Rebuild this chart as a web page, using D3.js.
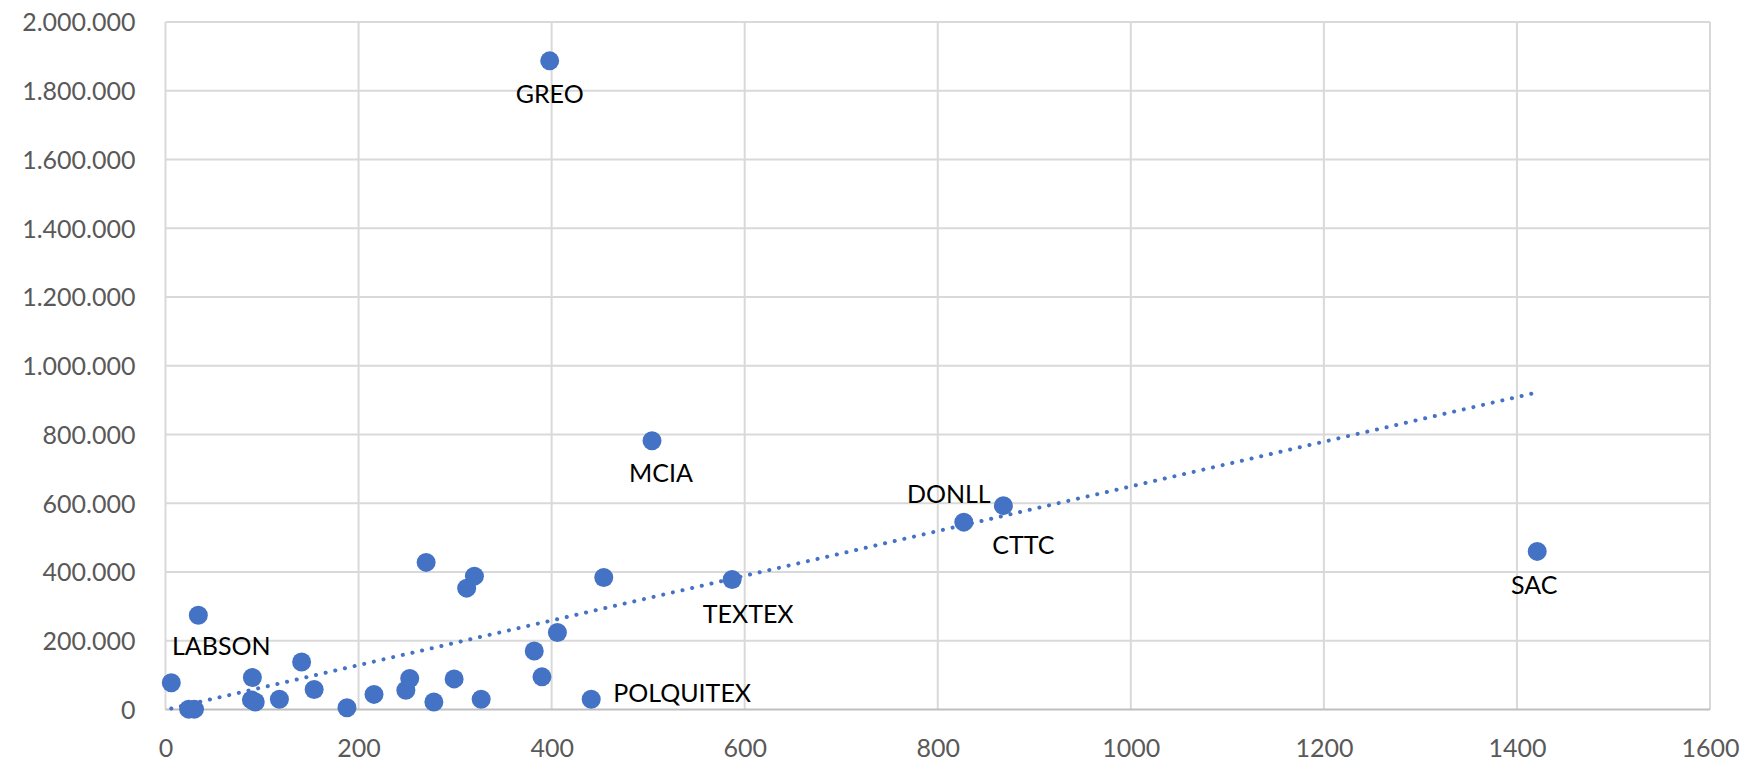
<!DOCTYPE html>
<html>
<head>
<meta charset="utf-8">
<script src="https://cdn.jsdelivr.net/npm/d3@7"></script>
<style>
  html, body { margin: 0; padding: 0; background: #fff; }
  svg { display: block; }
  .tick-label { font-family: Lato, "Open Sans", sans-serif; font-size: 25px; fill: #595959; }
  .point-label { font-family: Lato, "Open Sans", sans-serif; font-size: 25px; fill: #000; }
</style>
</head>
<body>
<svg id="chart" width="1759" height="764"></svg>
<script>
var xValues = [6, 24, 30, 34, 90, 89, 93, 118, 141, 154, 188, 216, 249, 253, 270, 278, 299, 312, 320, 327, 382, 390, 398, 406, 441, 454, 504, 587, 827, 868, 1421];
var yValues = [78000, 1000, 1000, 274000, 93000, 28000, 22000, 30000, 138000, 58000, 5000, 44000, 56000, 90000, 428000, 22000, 89000, 353000, 388000, 30000, 170000, 95000, 1887000, 224000, 30000, 384000, 782000, 378000, 545000, 593000, 460000];
var pointNames = ["", "", "", "LABSON", "", "", "", "", "", "", "", "", "", "", "", "", "", "", "", "", "", "", "GREO", "", "POLQUITEX", "", "MCIA", "TEXTEX", "DONLL", "CTTC", "SAC"];
var xTicks = [0, 200, 400, 600, 800, 1000, 1200, 1400, 1600];
var yTicks = [0, 200000, 400000, 600000, 800000, 1000000, 1200000, 1400000, 1600000, 1800000, 2000000];
// linear trendline as drawn in the picture
var trendIntercept = -1000,
    trendSlope = 650;

// label placement relative to its point (px)
var labelPlace = {
    LABSON: { dx: 23, dy: 40, anchor: "middle" },
    GREO: { dx: 0, dy: 42, anchor: "middle" },
    POLQUITEX: { dx: 22, dy: 3, anchor: "start" },
    MCIA: { dx: 9, dy: 41, anchor: "middle" },
    TEXTEX: { dx: 16, dy: 43, anchor: "middle" },
    DONLL: { dx: -15, dy: -19, anchor: "middle" },
    CTTC: { dx: 20, dy: 48, anchor: "middle" },
    SAC: { dx: -3, dy: 43, anchor: "middle" }
};

var margin = { top: 22, right: 49, bottom: 54.5, left: 165.5 },
    width = 1759 - margin.left - margin.right,
    height = 764 - margin.top - margin.bottom;

var data = xValues.map(function(d, i) {
    return { x: d, y: yValues[i], name: pointNames[i] };
});

var svg = d3.select("#chart");
var g = svg.append("g")
    .attr("transform", "translate(" + margin.left + "," + margin.top + ")");

var x = d3.scaleLinear().domain([0, 1600]).range([0, width]);
var y = d3.scaleLinear().domain([0, 2000000]).range([height, 0]);

var fmt = function(v) { return d3.format(",")(v).replace(/,/g, "."); };

// grid
g.append("g").selectAll("line.hgrid")
    .data(yTicks.slice(1))
    .enter().append("line")
    .attr("x1", 0).attr("x2", width)
    .attr("y1", d => y(d)).attr("y2", d => y(d))
    .attr("stroke", "#d9d9d9").attr("stroke-width", 2);

g.append("g").selectAll("line.vgrid")
    .data(xTicks)
    .enter().append("line")
    .attr("x1", d => x(d)).attr("x2", d => x(d))
    .attr("y1", 0).attr("y2", height)
    .attr("stroke", "#d9d9d9").attr("stroke-width", 2);

// x axis line
g.append("line")
    .attr("x1", 0).attr("x2", width)
    .attr("y1", height).attr("y2", height)
    .attr("stroke", "#bfbfbf").attr("stroke-width", 2);

// axes labels via d3 axes (ticks hidden)
var xAxis = d3.axisBottom(x).tickValues(xTicks).tickSize(0).tickPadding(30).tickFormat(d3.format("d"));
var yAxis = d3.axisLeft(y).tickValues(yTicks).tickSize(0).tickPadding(30).tickFormat(fmt);

var xa = g.append("g").attr("transform", "translate(0," + height + ")").call(xAxis);
var ya = g.append("g").call(yAxis);
[xa, ya].forEach(function(a) {
    a.select(".domain").remove();
    a.selectAll("text").attr("class", "tick-label").attr("font-size", null).attr("font-family", null);
});
xa.selectAll("text").attr("dy", "0.71em").attr("y", 30);
ya.selectAll("text").attr("dy", "0.35em");

// trendline
var xExt = d3.extent(xValues);
g.append("line")
    .attr("x1", x(xExt[0])).attr("y1", y(trendIntercept + trendSlope * xExt[0]))
    .attr("x2", x(xExt[1])).attr("y2", y(trendIntercept + trendSlope * xExt[1]))
    .attr("stroke", "#4472c4")
    .attr("stroke-width", 4)
    .attr("stroke-linecap", "round")
    .attr("stroke-dasharray", "0.1 9.8");

// points
g.append("g").selectAll("circle")
    .data(data)
    .enter().append("circle")
    .attr("cx", d => x(d.x))
    .attr("cy", d => y(d.y))
    .attr("r", 9.5)
    .attr("fill", "#4472c4");

// labels
g.append("g").selectAll("text")
    .data(data.filter(d => d.name))
    .enter().append("text")
    .attr("class", "point-label")
    .attr("x", d => x(d.x) + labelPlace[d.name].dx)
    .attr("y", d => y(d.y) + labelPlace[d.name].dy)
    .attr("text-anchor", d => labelPlace[d.name].anchor)
    .text(d => d.name);
</script>
</body>
</html>
